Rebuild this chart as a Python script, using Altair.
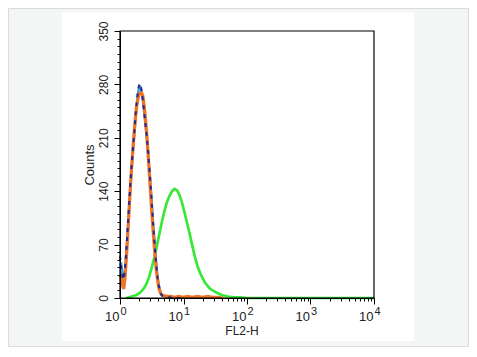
import altair as alt
import pandas as pd

# ---------------- data ----------------
# x positions are given as log10(FL2-H)
lb_log = [0.00, 0.02, 0.04, 0.06, 0.08, 0.10, 0.12, 0.14, 0.16, 0.18, 0.20, 0.22, 0.24,
          0.26, 0.28, 0.30, 0.32, 0.34, 0.36, 0.38, 0.40, 0.42, 0.44, 0.46, 0.48, 0.50,
          0.52, 0.54, 0.56, 0.58, 0.60, 0.62, 0.64, 0.66, 0.70, 0.76, 0.84, 0.95]
lightblue_counts = [42, 44, 30, 25, 38, 60, 85, 112, 140, 165, 187, 208, 230, 250, 266, 276,
                    277, 270, 258, 243, 228, 212, 194, 172, 150, 126, 100, 78, 56, 37, 23, 13,
                    7, 4, 2, 1, 0, 0]
darkblue_counts = [55, 40, 27, 24, 40, 63, 90, 118, 146, 170, 192, 212, 234, 254, 270, 279,
                   281, 272, 260, 245, 229, 213, 195, 173, 150, 125, 99, 76, 54, 35, 21, 12,
                   6, 3, 2, 1, 0, 0]

or_log = [0.00, 0.02, 0.04, 0.06, 0.08, 0.10, 0.12, 0.14, 0.16, 0.18, 0.20, 0.22, 0.24,
          0.26, 0.28, 0.30, 0.32, 0.34, 0.36, 0.38, 0.40, 0.42, 0.44, 0.46, 0.48, 0.50,
          0.52, 0.54, 0.56, 0.58, 0.60, 0.62, 0.64, 0.66, 0.70, 0.74, 0.80, 0.86, 0.92,
          1.00, 1.06, 1.14, 1.22, 1.30, 1.38, 1.46, 1.54, 1.62]
orange_counts = [30, 26, 16, 12, 28, 52, 80, 110, 140, 168, 192, 214, 234, 250, 260, 266,
                 269, 269, 265, 252, 236, 216, 192, 166, 140, 114, 90, 68, 48, 31, 19, 11,
                 6, 4, 3, 2, 2, 1, 2, 1, 2, 1, 2, 1, 2, 1, 1, 0]

gr_log = [0.10, 0.14, 0.18, 0.22, 0.26, 0.30, 0.34, 0.38, 0.42, 0.46, 0.50, 0.54, 0.58,
          0.62, 0.66, 0.70, 0.74, 0.78, 0.82, 0.86, 0.90, 0.94, 0.98, 1.02, 1.06, 1.10,
          1.14, 1.18, 1.22, 1.26, 1.30, 1.34, 1.38, 1.42, 1.46, 1.50, 1.55, 1.60, 1.65,
          1.70, 1.80, 1.90, 2.00, 4.00]
green_counts = [0, 1, 2, 3, 4, 6, 9, 13, 19, 28, 40, 53, 68, 84, 100, 114, 126, 134, 140,
                143, 141, 134, 124, 111, 97, 83, 68, 54, 42, 33, 26, 20, 16, 12, 10, 8, 6,
                4, 3, 2, 1, 1, 0, 0]

x_ticks = [1, 2, 3, 4, 5, 6, 7, 8, 9, 10, 20, 30, 40, 50, 60, 70, 80, 90,
           100, 200, 300, 400, 500, 600, 700, 800, 900,
           1000, 2000, 3000, 4000, 5000, 6000, 7000, 8000, 9000, 10000]
y_ticks = list(range(0, 351, 10))
decades = [1, 10, 100, 1000, 10000]
decade_base = ["10", "10", "10", "10", "10"]
decade_exp = ["0", "1", "2", "3", "4"]
x_title = ["FL2-H"]

FONT = "Liberation Sans"
TXT = "#222222"


def frame(logs, counts):
    return pd.DataFrame({"fl2": [10 ** v for v in logs], "count": counts})


xscale = alt.Scale(type="log", domain=[1, 10000], nice=False)
yscale = alt.Scale(domain=[0, 350], nice=False, zero=True)

x_axis = alt.Axis(
    values=x_ticks, labels=False, grid=False, zindex=1, title=None,
    domainColor="black", tickColor="black", tickWidth=1,
    tickSize={"condition": {"test": "indexof([1,10,100,1000,10000], datum.value) >= 0",
                            "value": 6}, "value": 3},
)
y_axis = alt.Axis(
    values=y_ticks, grid=False, zindex=1, labelOverlap=False,
    labelExpr="datum.value % 70 == 0 ? datum.label : ''",
    labelAngle=270, labelAlign="center", labelBaseline="bottom", labelPadding=4,
    labelFont=FONT, labelFontSize=12, labelColor=TXT,
    domainColor="black", tickColor="black", tickWidth=1,
    tickSize={"condition": {"test": "datum.value % 70 == 0", "value": 6}, "value": 3},
    title="Counts", titleFont=FONT, titleFontSize=13, titleFontWeight="normal",
    titleColor=TXT, titleAngle=270, titleX=-31, titleY=133.5,
    titleAlign="center", titleBaseline="middle",
)

X = alt.X("fl2:Q", scale=xscale, axis=x_axis)
Y = alt.Y("count:Q", scale=yscale, axis=y_axis)

one = pd.DataFrame({"a": [0]})

outer = alt.Chart(one).mark_rect(fill="#f4f6f6", stroke="#d9dcdc", strokeWidth=1).encode(
    x=alt.value(-111.5), x2=alt.value(348.5), y=alt.value(-22.5), y2=alt.value(315.5))
panel = alt.Chart(one).mark_rect(fill="white").encode(
    x=alt.value(-58), x2=alt.value(294), y=alt.value(-19), y2=alt.value(310))

green = alt.Chart(frame(gr_log, green_counts)).mark_line(
    color="#38e838", strokeWidth=2.7, interpolate="linear").encode(x=X, y=Y)
lblue = alt.Chart(frame(lb_log, lightblue_counts)).mark_line(
    color="#3a9be0", strokeWidth=2.4, interpolate="linear").encode(x=X, y=Y)
orange = alt.Chart(frame(or_log, orange_counts)).mark_line(
    color="#f07225", strokeWidth=3.2, interpolate="linear").encode(x=X, y=Y)
dblue = alt.Chart(frame(lb_log, darkblue_counts)).mark_line(
    color="#1f2a8f", strokeWidth=2, strokeDash=[4, 5], interpolate="linear").encode(x=X, y=Y)

box = alt.Chart(one).mark_rect(fillOpacity=0, stroke="black", strokeWidth=1.2).encode(
    x=alt.value(0), x2=alt.value(254), y=alt.value(0), y2=alt.value(267))

lab_df = pd.DataFrame({"v": decades, "base": decade_base, "e": decade_exp})
lab_base = alt.Chart(lab_df).mark_text(
    align="right", baseline="alphabetic", font=FONT, fontSize=13, color=TXT, dx=-0.5
).encode(x=alt.X("v:Q", scale=xscale, axis=x_axis), y=alt.value(289.7), text="base:N")
lab_exp = alt.Chart(lab_df).mark_text(
    align="left", baseline="alphabetic", font=FONT, fontSize=11, color=TXT, dx=0.5
).encode(x=alt.X("v:Q", scale=xscale, axis=x_axis), y=alt.value(284), text="e:N")

title_df = pd.DataFrame({"t": x_title})
x_title_mark = alt.Chart(title_df).mark_text(
    align="center", baseline="alphabetic", font=FONT, fontSize=12, color=TXT
).encode(x=alt.value(122), y=alt.value(303.5), text="t:N")

chart = alt.layer(
    outer, panel, green, lblue, orange, dblue, box, lab_base, lab_exp, x_title_mark
).properties(
    width=254, height=267,
    autosize=alt.AutoSizeParams(type="none"),
    padding={"left": 112, "top": 23, "right": 95, "bottom": 49},
    background="#ffffff",
).configure_view(stroke="transparent")

chart.save("out.html", embed_options={"renderer": "svg", "actions": False})
